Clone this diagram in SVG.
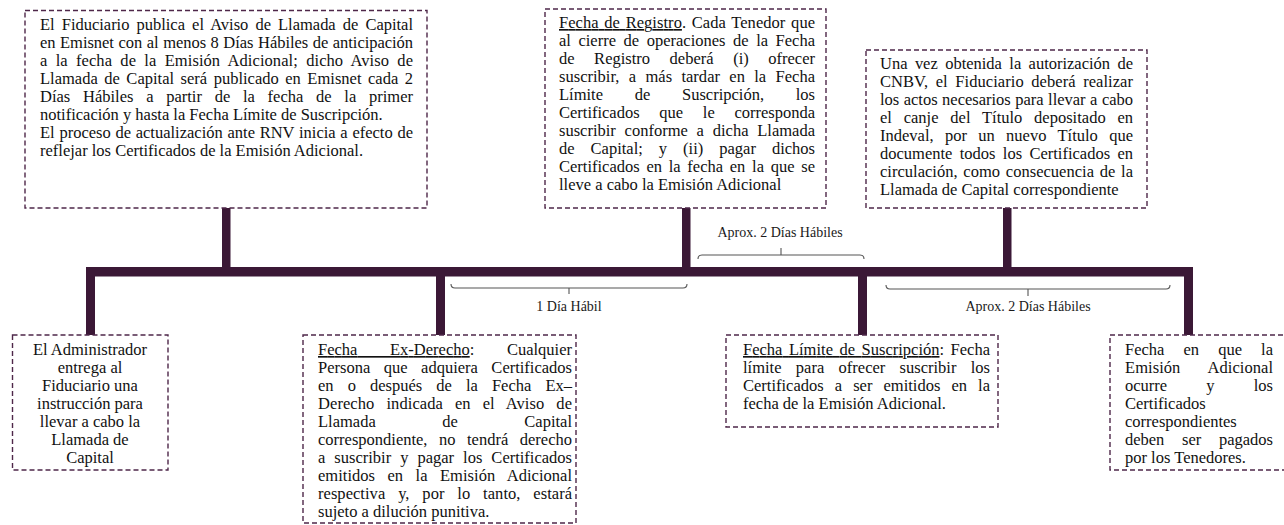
<svg xmlns="http://www.w3.org/2000/svg" width="1284" height="525" viewBox="0 0 1284 525">
<style>
.box{fill:#fff;stroke:#4e2749;stroke-width:1.4;stroke-dasharray:5 3}
.t{font-family:"Liberation Serif","Times New Roman",serif;font-size:16.5px;fill:#111}
.c{text-anchor:middle}
.lbl{font-family:"Liberation Serif","Times New Roman",serif;font-size:14px;fill:#1a1a1a;text-anchor:middle}
.br{fill:none;stroke:#555;stroke-width:1.1}
.bar{fill:#3b1836}
.u{text-decoration:underline}
</style>
<rect width="1284" height="525" fill="#fff"/>
<g id="connectors">
<rect class="bar" x="86" y="267" width="1107" height="9.5"/>
<rect class="bar" x="222" y="207" width="8.5" height="62"/>
<rect class="bar" x="682" y="207" width="8.5" height="62"/>
<rect class="bar" x="1003" y="207" width="8.5" height="62"/>
<rect class="bar" x="86" y="275" width="9" height="61"/>
<rect class="bar" x="436" y="275" width="9" height="61"/>
<rect class="bar" x="858" y="275" width="9" height="61"/>
<rect class="bar" x="1184" y="275" width="9" height="61"/>
</g>
<g id="brace-1">
<path class="br" d="M451,284 Q451,288 455,288 H683 Q687,288 687,284 M569,288 V294"/>
<text class="lbl" x="569" y="311">1 Día Hábil</text>
</g>
<g id="brace-2">
<path class="br" d="M698,259 Q698,255 702,255 H860 Q864,255 864,259 M781,255 V248"/>
<text class="lbl" x="780" y="237">Aprox. 2 Días Hábiles</text>
</g>
<g id="brace-3">
<path class="br" d="M886,285 Q886,289 890,289 H1166 Q1170,289 1170,285 M1028,289 V296"/>
<text class="lbl" x="1028" y="311">Aprox. 2 Días Hábiles</text>
</g>
<g id="node-aviso">
<rect class="box" x="25" y="10.5" width="402" height="197.5"/>
<text class="t" x="40" y="30" word-spacing="3" textLength="373">El Fiduciario publica el Aviso de Llamada de Capital</text>
<text class="t" x="40" y="48" word-spacing="0.5" textLength="373">en Emisnet con al menos 8 Días Hábiles de anticipación</text>
<text class="t" x="40" y="66" word-spacing="4.1" textLength="373">a la fecha de la Emisión Adicional; dicho Aviso de</text>
<text class="t" x="40" y="84" word-spacing="2.4" textLength="373">Llamada de Capital será publicado en Emisnet cada 2</text>
<text class="t" x="40" y="102" word-spacing="8.6" textLength="373">Días Hábiles a partir de la fecha de la primer</text>
<text class="t" x="40" y="120">notificación y hasta la Fecha Límite de Suscripción.</text>
<text class="t" x="40" y="138" word-spacing="0.6" textLength="373">El proceso de actualización ante RNV inicia a efecto de</text>
<text class="t" x="40" y="156">reflejar los Certificados de la Emisión Adicional.</text>
</g>
<g id="node-registro">
<rect class="box" x="545" y="9" width="281" height="199"/>
<text class="t" x="559" y="28" word-spacing="1.5" textLength="256"><tspan class="u">Fecha de Registro</tspan>. Cada Tenedor que</text>
<text class="t" x="559" y="46" word-spacing="3.4" textLength="256">al cierre de operaciones de la Fecha</text>
<text class="t" x="559" y="64" word-spacing="15.4" textLength="256">de Registro deberá (i) ofrecer</text>
<text class="t" x="559" y="82" word-spacing="5.2" textLength="256">suscribir, a más tardar en la Fecha</text>
<text class="t" x="559" y="100" word-spacing="27.6" textLength="256">Límite de Suscripción, los</text>
<text class="t" x="559" y="118" word-spacing="15.6" textLength="256">Certificados que le corresponda</text>
<text class="t" x="559" y="136" word-spacing="4.7" textLength="256">suscribir conforme a dicha Llamada</text>
<text class="t" x="559" y="154" word-spacing="11.9" textLength="256">de Capital; y (ii) pagar dichos</text>
<text class="t" x="559" y="172" word-spacing="2.6" textLength="256">Certificados en la fecha en la que se</text>
<text class="t" x="559" y="190">lleve a cabo la Emisión Adicional</text>
</g>
<g id="node-canje">
<rect class="box" x="866" y="50" width="281" height="158"/>
<text class="t" x="880" y="69" word-spacing="3.3" textLength="253">Una vez obtenida la autorización de</text>
<text class="t" x="880" y="87" word-spacing="3.4" textLength="253">CNBV, el Fiduciario deberá realizar</text>
<text class="t" x="880" y="105" word-spacing="0.4" textLength="253">los actos necesarios para llevar a cabo</text>
<text class="t" x="880" y="123" word-spacing="7.6" textLength="253">el canje del Título depositado en</text>
<text class="t" x="880" y="141" word-spacing="7.2" textLength="253">Indeval, por un nuevo Título que</text>
<text class="t" x="880" y="159" word-spacing="3.2" textLength="253">documente todos los Certificados en</text>
<text class="t" x="880" y="177" word-spacing="1.6" textLength="253">circulación, como consecuencia de la</text>
<text class="t" x="880" y="195">Llamada de Capital correspondiente</text>
</g>
<g id="node-administrador">
<rect class="box" x="12.5" y="335" width="155.5" height="135"/>
<text class="t c" x="90" y="355">El Administrador</text>
<text class="t c" x="90" y="373">entrega al</text>
<text class="t c" x="90" y="391">Fiduciario una</text>
<text class="t c" x="90" y="409">instrucción para</text>
<text class="t c" x="90" y="427">llevar a cabo la</text>
<text class="t c" x="90" y="445">Llamada de</text>
<text class="t c" x="90" y="463">Capital</text>
</g>
<g id="node-exderecho">
<rect class="box" x="303" y="335" width="273" height="188"/>
<text class="t" x="318" y="355" word-spacing="28.5" textLength="254"><tspan class="u">Fecha Ex-Derecho</tspan>: Cualquier</text>
<text class="t" x="318" y="373" word-spacing="9.4" textLength="254">Persona que adquiera Certificados</text>
<text class="t" x="318" y="391" word-spacing="9.9" textLength="254">en o después de la Fecha Ex–</text>
<text class="t" x="318" y="409" word-spacing="7.8" textLength="254">Derecho indicada en el Aviso de</text>
<text class="t" x="318" y="427" word-spacing="62.4" textLength="254">Llamada de Capital</text>
<text class="t" x="318" y="445" word-spacing="7.4" textLength="254">correspondiente, no tendrá derecho</text>
<text class="t" x="318" y="463" word-spacing="4.9" textLength="254">a suscribir y pagar los Certificados</text>
<text class="t" x="318" y="481" word-spacing="8.3" textLength="254">emitidos en la Emisión Adicional</text>
<text class="t" x="318" y="499" word-spacing="8.7" textLength="254">respectiva y, por lo tanto, estará</text>
<text class="t" x="318" y="517">sujeto a dilución punitiva.</text>
</g>
<g id="node-limite">
<rect class="box" x="726" y="335" width="272" height="92"/>
<text class="t" x="743" y="355" word-spacing="2.4" textLength="247"><tspan class="u">Fecha Límite de Suscripción</tspan>: Fecha</text>
<text class="t" x="743" y="373" word-spacing="10.2" textLength="247">límite para ofrecer suscribir los</text>
<text class="t" x="743" y="391" word-spacing="7" textLength="247">Certificados a ser emitidos en la</text>
<text class="t" x="743" y="409">fecha de la Emisión Adicional.</text>
</g>
<g id="node-emision">
<rect class="box" x="1110" y="335" width="185" height="135"/>
<text class="t" x="1125" y="355" word-spacing="15" textLength="148">Fecha en que la</text>
<text class="t" x="1125" y="373" word-spacing="23.9" textLength="148">Emisión Adicional</text>
<text class="t" x="1125" y="391" word-spacing="35" textLength="148">ocurre y los</text>
<text class="t" x="1125" y="409">Certificados</text>
<text class="t" x="1125" y="427">correspondientes</text>
<text class="t" x="1125" y="445" word-spacing="13.6" textLength="148">deben ser pagados</text>
<text class="t" x="1125" y="463">por los Tenedores.</text>
</g>
</svg>
